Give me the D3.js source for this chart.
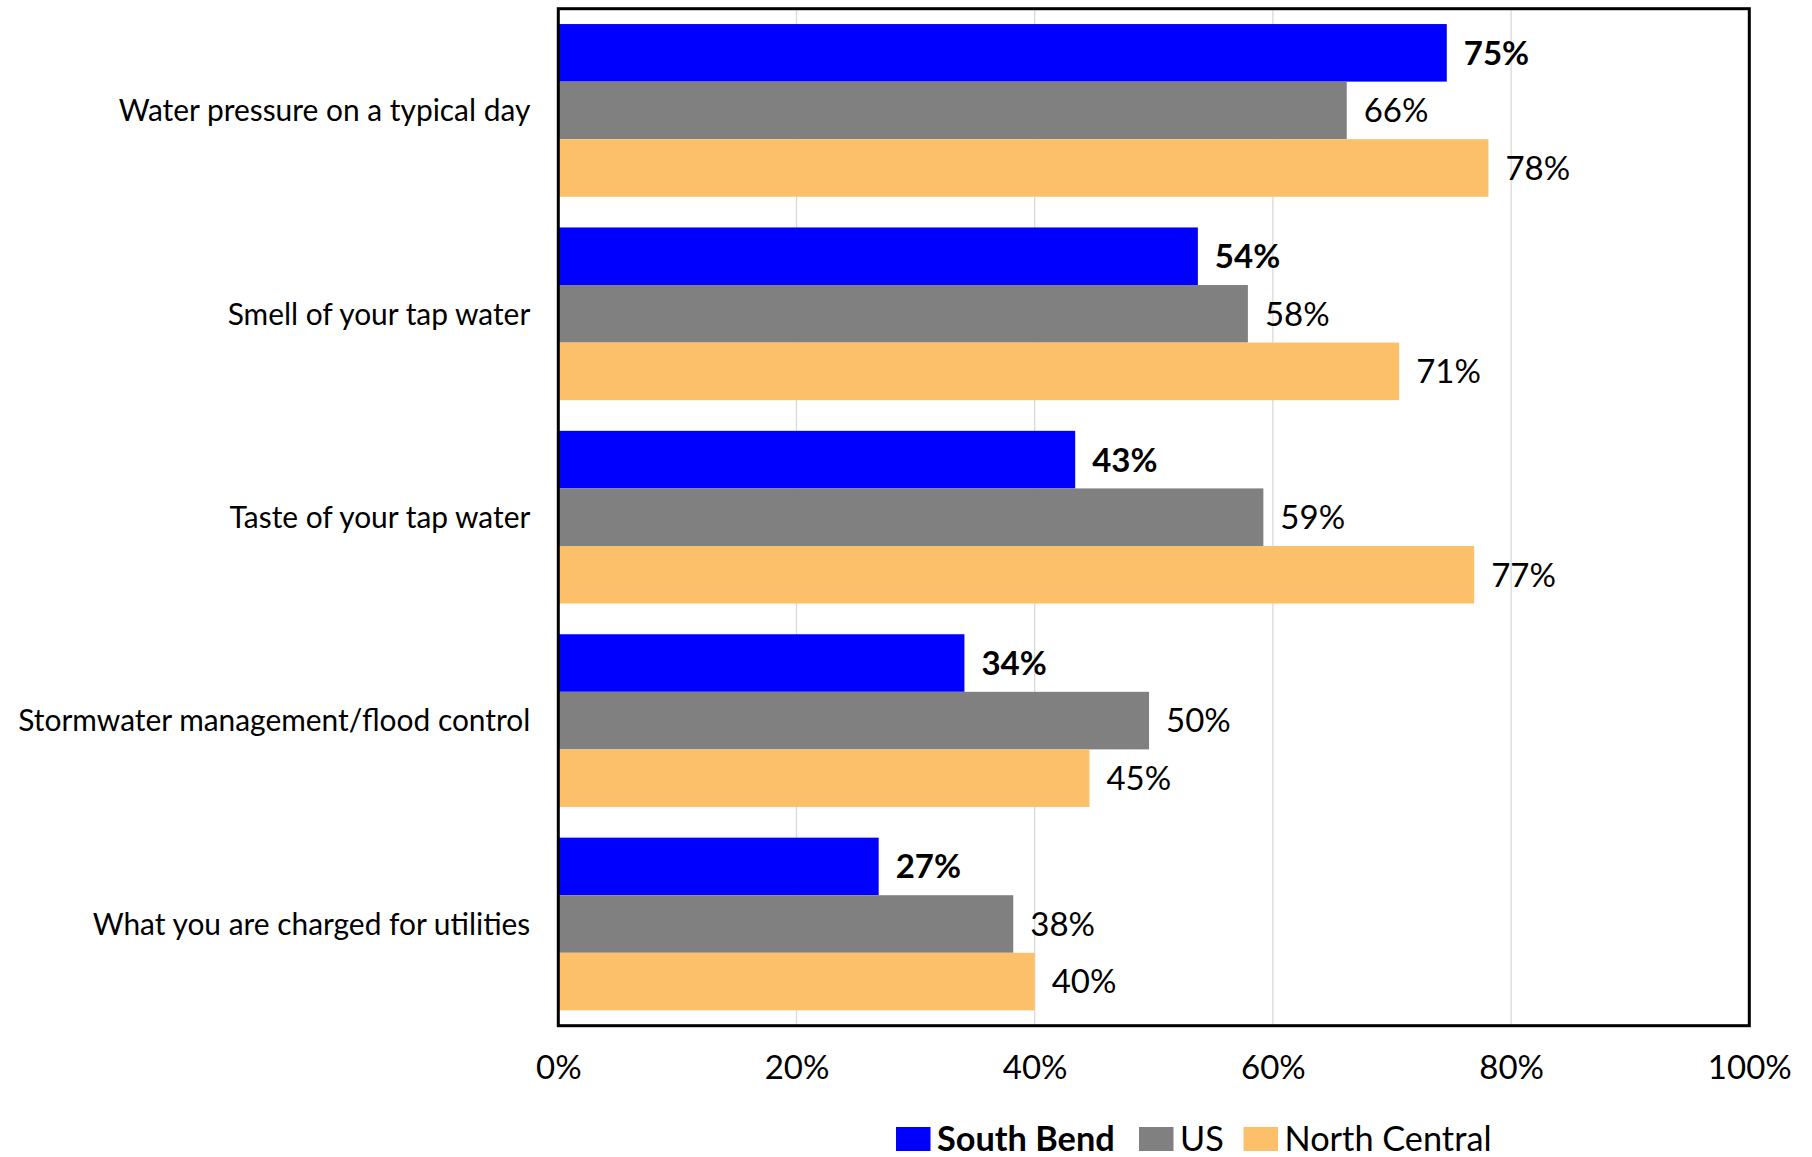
<!DOCTYPE html>
<html><head><meta charset="utf-8">
<script src="https://cdn.jsdelivr.net/npm/d3@7/dist/d3.min.js"></script>
<style>body{margin:0;background:#fff}svg{display:block}text{font-family:Lato,"Open Sans",sans-serif;fill:#000}</style>
</head><body><svg id="c" width="1812" height="1157"></svg>
<script>
const categories = ["Water pressure on a typical day","Smell of your tap water","Taste of your tap water","Stormwater management/flood control","What you are charged for utilities"];
const seriesNames = ["South Bend","US","North Central"];
const southBend = [74.6, 53.7, 43.4, 34.1, 26.9];
const us = [66.2, 57.9, 59.2, 49.6, 38.2];
const northCentral = [78.1, 70.6, 76.9, 44.6, 40.0];
const xTicks = [0,20,40,60,80,100];
const colors = ["#0000FF","#808080","#FDC06A"];

const seriesValues = [southBend, us, northCentral];
const svg = d3.select("#c");
const L = 558.3, R = 1749.3, T = 8.7, B = 1025.7;
const x = d3.scaleLinear().domain([0,100]).range([L,R]);
const y = d3.scaleBand().domain(categories).range([T,B]).padding(0);
const yi = d3.scaleBand().domain(seriesNames).range([0,y.bandwidth()]).paddingInner(0).paddingOuter(0.2666);

// gridlines
svg.append("g").selectAll("line").data(xTicks.slice(1,-1)).join("line")
  .attr("x1",d=>x(d)).attr("x2",d=>x(d)).attr("y1",T).attr("y2",B)
  .attr("stroke","#d9d9d9").attr("stroke-width",1.3);

// bars
const rows = [];
categories.forEach((c,i)=>seriesNames.forEach((s,j)=>rows.push({c,s,j,v:seriesValues[j][i]})));
svg.append("g").selectAll("rect").data(rows).join("rect")
  .attr("x",x(0)).attr("y",d=>y(d.c)+yi(d.s))
  .attr("width",d=>x(d.v)-x(0)).attr("height",yi.bandwidth())
  .attr("fill",d=>colors[d.j]);

// data labels
svg.append("g").selectAll("text").data(rows).join("text")
  .attr("x",d=>x(d.v)+17).attr("y",d=>y(d.c)+yi(d.s)+yi.bandwidth()/2).attr("dy","0.36em")
  .attr("font-size",33).attr("font-weight",d=>d.j===0?"bold":"normal")
  .text(d=>Math.round(d.v)+"%");

// frame
svg.append("rect").attr("x",L).attr("y",T).attr("width",R-L).attr("height",B-T)
  .attr("fill","none").attr("stroke","#000").attr("stroke-width",3);

// y category labels
const ya = svg.append("g").attr("transform",`translate(${L},0)`)
  .call(d3.axisLeft(y).tickSize(0).tickPadding(28));
ya.select(".domain").remove();
ya.selectAll("text").attr("font-size",29.9).attr("font-family","Lato").attr("fill","#000").attr("dy","0.36em");

// x tick labels
const xa = svg.append("g").attr("transform",`translate(0,${B})`)
  .call(d3.axisBottom(x).tickValues(xTicks).tickSize(0).tickPadding(0).tickFormat(d=>d+"%"));
xa.select(".domain").remove();
xa.selectAll("text").attr("font-size",33).attr("font-family","Lato").attr("fill","#000").attr("dy",null).attr("y",53.5);

// legend
const legX = [896, 1139, 1243.5];
const lg = svg.append("g");
seriesNames.forEach((s,j)=>{
  lg.append("rect").attr("x",legX[j]).attr("y",1127).attr("width",34.5).attr("height",24).attr("fill",colors[j]);
  lg.append("text").attr("x",legX[j]+41).attr("y",1150.5).attr("font-size",34.3)
    .attr("font-weight",j===0?"bold":"normal").text(s);
});
</script></body></html>
